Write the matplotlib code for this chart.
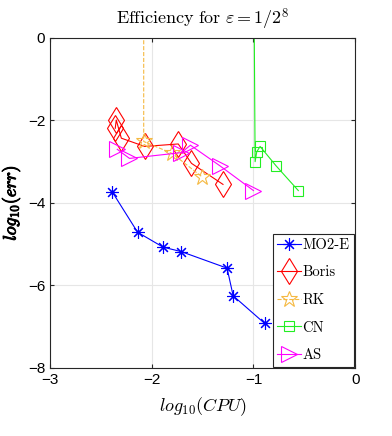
import numpy as np
import matplotlib.pyplot as plt
import matplotlib.patheffects as pe

plt.rcParams['mathtext.fontset'] = 'cm'
plt.rcParams['font.family'] = ['Liberation Sans', 'DejaVu Sans']

# data (log10 CPU, log10 err)
mo2e_x = [-2.39, -2.14, -1.89, -1.71, -1.26, -1.20, -0.89]
mo2e_y = [-3.73, -4.71, -5.07, -5.18, -5.58, -6.25, -6.92]

boris_x = [-2.36, -2.35, -2.30, -2.07, -1.74, -1.61, -1.30]
boris_y = [-2.19, -1.99, -2.43, -2.63, -2.57, -3.04, -3.55]

rk_x = [-2.08, -2.08, -1.80, -1.51]
rk_y = [3.0, -2.51, -2.80, -3.36]

cn_x = [-1.00, -0.984, -0.968, -0.935, -0.778, -0.559]
cn_y = [3.0, -3.00, -2.76, -2.63, -3.10, -3.70]

as_x = [-2.34, -2.22, -1.71, -1.62, -1.33, -1.00]
as_y = [-2.70, -2.92, -2.78, -2.60, -3.10, -3.70]

fig = plt.figure(figsize=(3.92, 4.36), dpi=100)
ax = fig.add_axes([0.128, 0.156, 0.778, 0.757])

lw = 0.8
ax.plot(mo2e_x, mo2e_y, '-', color='#0000FF', lw=lw, marker=(8, 2, 0), ms=9,
        mew=0.8, label='MO2-E')
ax.plot(boris_x, boris_y, '-', color='#FF0000', lw=lw, marker='d', ms=13,
        mfc='none', mew=0.8, label='Boris')
ax.plot(rk_x, rk_y, '--', color='#F5B942', lw=lw, marker='*', ms=12,
        mfc='none', mew=0.8, label='RK')
ax.plot(cn_x, cn_y, '-', color='#22EE22', lw=lw, marker='s', ms=7.5,
        mfc='none', mew=0.8, label='CN')
ax.plot(as_x, as_y, '-', color='#FF00FF', lw=lw, marker='>', ms=11,
        mfc='none', mew=0.8, label='AS')

ax.set_xlim(-3, 0)
ax.set_ylim(-8, 0)
ax.set_xticks([-3, -2, -1, 0])
ax.set_yticks([-8, -6, -4, -2, 0])
ax.tick_params(direction='in', top=True, right=True, labelsize=11, length=3,
               color='#262626')
ax.grid(True, color='#E6E6E6', lw=0.8)
ax.set_axisbelow(True)
for s in ax.spines.values():
    s.set_color('#262626')
    s.set_linewidth(0.8)

ax.set_title(r'$\mathrm{Efficiency\ for}\ \varepsilon = 1/2^8$', fontsize=13, pad=10)
ax.set_xlabel(r'$log_{10}(CPU)$', fontsize=13, labelpad=6)
ax.set_ylabel(r'$log_{10}(err)$', fontsize=13, labelpad=4,
              path_effects=[pe.withStroke(linewidth=0.7, foreground='k')])

leg = ax.legend(loc='lower right', prop={'family': 'cmr10', 'size': 10.5},
                handlelength=1.6, handletextpad=0.1, borderpad=0.3, labelspacing=0.95,
                fancybox=False, edgecolor='#262626', framealpha=1,
                borderaxespad=0.1)
leg.get_frame().set_linewidth(0.8)

fig.savefig('out.png', dpi=100)
